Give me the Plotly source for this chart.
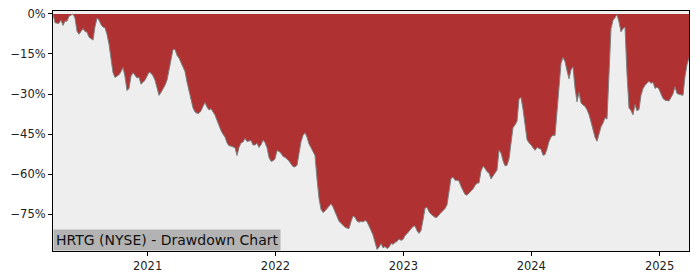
import pandas as pd
import plotly.graph_objects as go

# Drawdown (%) of HRTG, sampled at regular intervals from 2020-04-06 to 2025-03-26
dd_2020 = [0, -3.3, -3.5, -3.5, -2.3, -4.3, -2.7, -2.7, -0.9, -0.6, 0, -1.6, -6.5, -7.6, -6.6, -5.5,
           -6.6, -6.8, -8.7, -9.4, -9.8, -4.8, -1.6, -2.3, -4.0, -4.9, -5.2, -7.7, -11.3, -16.7, -22.0,
           -23.8, -23.3, -22.8, -21.6, -20.1, -23.5, -28.7, -27.9, -23.3, -22.0, -23.0, -24.0, -23.7,
           -26.3, -25.6, -24.8, -23.3, -21.8, -22.2, -23.2, -24.8, -27.7]
dd_2021 = [-30.5, -29.4, -28.2, -26.7, -24.8, -20.7, -16.0, -13.3, -13.3, -15.5, -16.5, -18.0, -19.8,
           -21.6, -25.5, -28.7, -31.8, -35.2, -36.7, -37.2, -37.2, -36.3, -34.6, -33.2, -34.9, -36.0,
           -35.5, -36.5, -37.9, -39.9, -42.1, -43.7, -45.1, -46.1, -48.3, -49.4, -49.5, -49.8, -50.1,
           -53.0, -50.0, -48.3, -48.0, -46.6, -47.8, -47.6, -47.4, -49.1, -49.1, -48.4, -50.0, -49.0, -47.3]
dd_2022 = [-48.2, -50.1, -53.8, -55.2, -55.0, -54.3, -51.2, -51.5, -52.2, -53.4, -53.7, -54.4, -55.1,
           -56.2, -57.2, -57.3, -56.7, -52.3, -47.9, -45.5, -44.5, -46.2, -48.7, -50.1, -51.6, -53.0,
           -61.8, -69.1, -73.2, -74.4, -73.8, -73.0, -71.8, -71.1, -72.3, -73.8, -75.9, -77.7, -78.4,
           -79.1, -79.9, -80.2, -80.4, -77.8, -75.7, -76.2, -77.6, -78.0, -77.7, -77.9, -77.4, -77.8, -79.8]
dd_2023 = [-81.1, -82.8, -86.0, -88.2, -87.4, -86.0, -87.6, -87.1, -87.9, -87.4, -86.0, -86.3, -85.6,
           -85.2, -84.3, -84.8, -84.5, -83.0, -82.3, -81.3, -80.5, -79.6, -79.4, -81.2, -82.2, -81.1,
           -77.2, -72.8, -72.4, -74.1, -75.0, -75.7, -76.2, -76.2, -75.2, -74.4, -73.7, -72.9, -71.5,
           -66.3, -61.6, -61.1, -62.3, -62.3, -62.6, -64.6, -66.1, -67.6, -67.9, -67.2, -66.5, -65.6, -64.3]
dd_2024 = [-63.4, -63.3, -58.9, -57.1, -57.8, -59.1, -59.6, -61.8, -60.7, -59.3, -58.5, -51.1, -52.1,
           -55.0, -56.9, -56.7, -54.3, -48.4, -42.6, -41.6, -40.2, -31.8, -31.3, -35.7, -42.1, -47.0,
           -48.3, -49.0, -50.1, -51.1, -50.0, -50.5, -50.7, -52.9, -52.7, -50.6, -47.8, -46.1, -45.4,
           -45.6, -37.2, -26.8, -18.5, -16.3, -17.8, -21.3, -24.3, -20.9, -19.8, -27.8, -32.9, -29.4, -33.3]
dd_2025 = [-34.1, -34.6, -35.9, -37.7, -40.4, -43.3, -46.2, -47.7, -44.8, -42.3, -40.9, -38.9, -39.4,
           -22.6, -5.5, -2.4, -1.1, -0.3, -3.0, -6.7, -5.5, -4.9, -22.6, -35.2, -36.2, -37.8, -33.9,
           -36.3, -35.8, -30.4, -28.0, -26.7, -26.0, -25.2, -26.0, -25.6, -27.9, -27.4, -28.2, -30.1,
           -31.7, -32.3, -32.6, -32.6, -31.3, -29.9, -27.3, -29.8, -30.1, -30.4, -30.5, -23.4, -19.0, -16.5]

drawdown = dd_2020 + dd_2021 + dd_2022 + dd_2023 + dd_2024 + dd_2025
start_date, end_date = "2020-04-06", "2025-03-26"
dates = pd.date_range(start_date, end_date, periods=len(drawdown))

y_tick_vals = [0, -15, -30, -45, -60, -75]
y_tick_text = ["0%", "\u221215%", "\u221230%", "\u221245%", "\u221260%", "\u221275%"]
x_tick_vals = ["2021-01-01", "2022-01-01", "2023-01-01", "2024-01-01", "2025-01-01"]
x_tick_text = ["2021", "2022", "2023", "2024", "2025"]
title_text = "HRTG (NYSE) - Drawdown Chart"

fig = go.Figure()
fig.add_trace(go.Scatter(
    x=dates, y=drawdown, mode="lines", fill="tozeroy",
    fillcolor="#B03131", line=dict(color="#808080", width=1),
    hoverinfo="skip", showlegend=False,
))

axis_common = dict(showgrid=False, zeroline=False, showline=True, linecolor="black",
                   linewidth=1, mirror=True, ticks="outside", ticklen=4, tickcolor="black",
                   tickfont=dict(family="DejaVu Sans", size=11.5, color="#222222"))
fig.update_xaxes(range=[start_date, end_date], tickvals=x_tick_vals, ticktext=x_tick_text,
                 **axis_common)
fig.update_yaxes(range=[-88.8, 1.1], tickvals=y_tick_vals, ticktext=y_tick_text, **axis_common)

fig.add_annotation(text=title_text, xref="paper", yref="paper", x=0, y=0,
                   xanchor="left", yanchor="bottom", showarrow=False,
                   bgcolor="#B3B3B3", borderpad=2,
                   font=dict(family="DejaVu Sans", size=14, color="#111111"))

fig.update_layout(width=700, height=280, margin=dict(l=53, r=11, t=7, b=28),
                  plot_bgcolor="#EEEEEE", paper_bgcolor="white")

fig.write_html("out.html")
